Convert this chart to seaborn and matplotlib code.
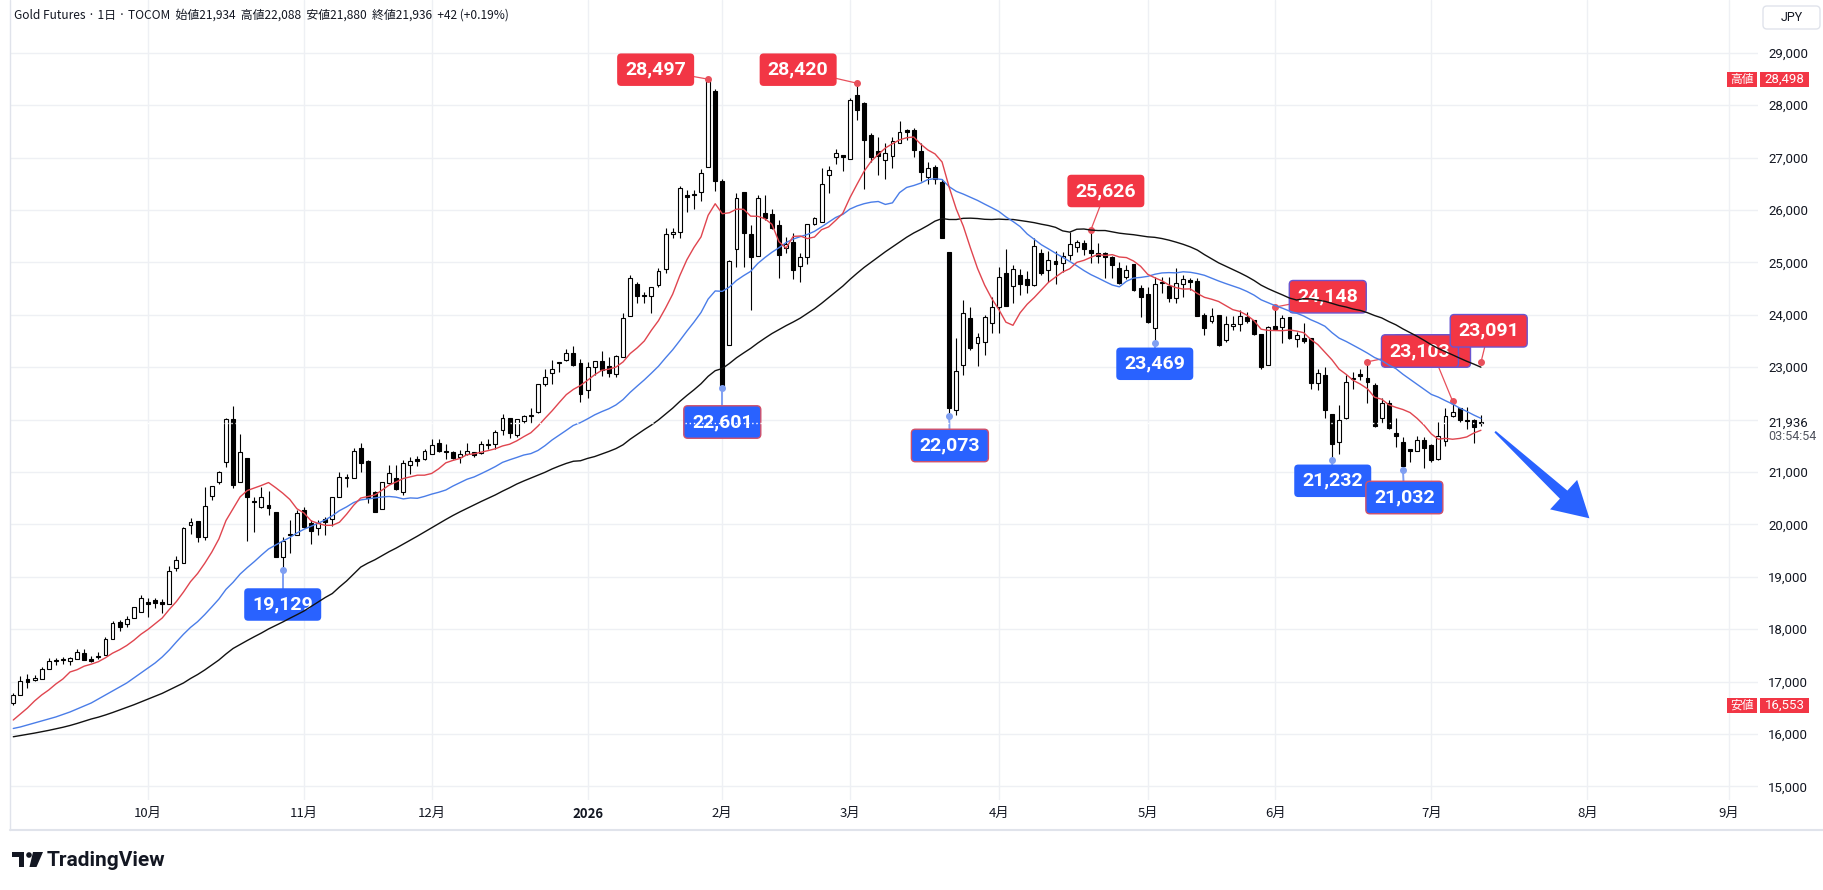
import numpy as np
import pandas as pd
import matplotlib
matplotlib.use("Agg")
import matplotlib.pyplot as plt
import matplotlib.transforms as mtransforms
from matplotlib.patches import FancyBboxPatch, Rectangle, Polygon, Circle
from matplotlib.lines import Line2D
import seaborn as sns

# ---------------- data (daily OHLC, Gold Futures TOCOM, JPY) ----------------
opens = [
    16586, 16739, 17050, 17025, 17050, 17241, 17400, 17410, 17387, 17437,
    17551, 17437, 17460, 17510, 17818, 18137, 18105, 18213, 18336, 18498,
    18548, 18500, 18484, 19161, 19270, 19988, 20059, 19754, 20548, 20805,
    21198, 22005, 20814, 21265, 20440, 20325, 20366, 20232, 19385, 19810,
    19800, 20277, 20030, 19940, 20098, 20098, 20529, 20885, 20882, 21453,
    21216, 20625, 20294, 20783, 20891, 20614, 21140, 21255, 21245, 21341,
    21550, 21408, 21390, 21284, 21345, 21376, 21355, 21520, 21527, 21800,
    22036, 21710, 21974, 22075, 22150, 22675, 22884, 23085, 23138, 23265,
    23080, 22573, 23005, 23120, 23030, 22865, 23200, 23980, 24580, 24365,
    24365, 24570, 24868, 25537, 25586, 26270, 26290, 26350, 26827, 28270,
    26550, 23425, 25250, 26340, 25537, 25130, 25937, 25920, 25715, 25270,
    25395, 24932, 25110, 25727, 25777, 26670, 27010, 27050, 26968, 28195,
    28050, 27430, 27125, 26955, 27030, 27273, 27527, 27527, 27125, 26625,
    26830, 26540, 25193, 22180, 23040, 23935, 23456, 23490, 23840, 24140,
    24795, 24550, 24760, 24685, 24570, 25185, 24850, 25035, 24985, 25141,
    25300, 25376, 25237, 25185, 25185, 25110, 24890, 24730, 24965, 24520,
    24390, 23740, 24630, 24545, 24315, 24590, 24665, 24650, 23997, 23880,
    23997, 23520, 23785, 23825, 23965, 23900, 23635, 23050, 23785, 23775,
    23950, 23535, 23555, 23550, 22705, 22850, 22100, 21575, 22025, 22775,
    22860, 22790, 22660, 22025, 22325, 21738, 21580, 21425, 21410, 21615,
    21520, 21245, 21600, 22065, 22215, 21995, 21995, 21934]

highs = [
    16777, 17107, 17139, 17120, 17273, 17444, 17444, 17475, 17475, 17616,
    17616, 17494, 17559, 17857, 18156, 18175, 18246, 18431, 18659, 18590,
    18602, 18570, 19206, 19397, 19958, 20116, 20060, 20710, 20740, 21027,
    22024, 22257, 21730, 21270, 20516, 20710, 20645, 20232, 19766, 20080,
    20277, 20340, 20080, 20080, 20144, 20525, 21000, 20960, 21453, 21560,
    21220, 20630, 20805, 21133, 21133, 21220, 21290, 21310, 21435, 21624,
    21624, 21535, 21392, 21422, 21560, 21390, 21592, 21624, 21800, 22105,
    22040, 22012, 22080, 22217, 22680, 22960, 23138, 23105, 23350, 23405,
    23155, 23090, 23125, 23310, 23190, 23225, 24030, 24760, 24630, 24430,
    24530, 24890, 25650, 25650, 26464, 26382, 26382, 26777, 28497, 28303,
    26600, 25046, 26330, 26350, 25715, 26290, 26290, 26015, 25810, 25490,
    25555, 25175, 25735, 25860, 26795, 26840, 27165, 27055, 28135, 28420,
    28070, 27465, 27400, 27272, 27387, 27705, 27540, 27570, 27285, 26920,
    26860, 26590, 25195, 23563, 24282, 24155, 23650, 24000, 24345, 24910,
    25250, 24950, 24870, 24840, 25460, 25250, 25225, 25225, 25205, 25585,
    25430, 25430, 25626, 25375, 25190, 25115, 25013, 24950, 24970, 24570,
    24535, 24730, 24730, 24730, 24900, 24760, 24700, 24700, 24040, 24135,
    24000, 23975, 23975, 24090, 24060, 23905, 23640, 23785, 24148, 23995,
    23950, 23680, 23840, 23555, 22960, 23005, 22105, 22280, 22850, 22915,
    22960, 23103, 22705, 22405, 22375, 22025, 21675, 21425, 21690, 21675,
    21525, 21960, 22215, 22355, 22230, 22235, 22010, 22088]

lows = [
    16553, 16735, 16884, 17020, 17044, 17235, 17311, 17342, 17311, 17431,
    17412, 17368, 17425, 17500, 17810, 17971, 18047, 18210, 18330, 18227,
    18407, 18303, 18484, 19110, 19265, 19815, 19660, 19700, 20460, 20769,
    21090, 20690, 20814, 19690, 19848, 20320, 20180, 19370, 19129, 19450,
    19795, 19940, 19630, 19800, 19800, 19970, 20520, 20710, 20880, 21000,
    20405, 20230, 20290, 20780, 20665, 20560, 20955, 21110, 21225, 21340,
    21385, 21245, 21250, 21180, 21325, 21295, 21350, 21435, 21435, 21700,
    21645, 21660, 21940, 21940, 22120, 22647, 22675, 22915, 23120, 23030,
    22345, 22405, 22850, 22840, 22820, 22820, 23195, 23975, 24230, 24220,
    24030, 24525, 24790, 25460, 25460, 25955, 26018, 26172, 26820, 26368,
    22601, 23420, 24918, 24918, 24090, 25125, 25810, 25630, 24710, 25175,
    24680, 24620, 24970, 25720, 25770, 26320, 26875, 26750, 26965, 27718,
    26400, 26920, 26670, 26586, 26810, 27270, 27336, 27005, 26555, 26495,
    26495, 25460, 22073, 22090, 22850, 23330, 23030, 23230, 23650, 23650,
    24165, 24220, 24380, 24420, 24545, 24760, 24630, 24590, 24820, 25045,
    25205, 25141, 24995, 24995, 24695, 24695, 24590, 24680, 24455, 23965,
    23850, 23469, 24410, 24250, 24230, 24335, 24475, 23980, 23615, 23850,
    23410, 23485, 23710, 23690, 23850, 23615, 22960, 23040, 23705, 23470,
    23535, 23390, 23460, 22580, 22560, 22025, 21232, 21345, 22020, 22575,
    22760, 22320, 21850, 21930, 21820, 21470, 21032, 21200, 21400, 21070,
    21200, 21230, 21490, 22055, 21960, 21815, 21545, 21880]

closes = [
    16744, 17017, 16998, 17069, 17235, 17387, 17390, 17425, 17444, 17559,
    17418, 17400, 17470, 17818, 18112, 18047, 18194, 18418, 18590, 18488,
    18498, 18490, 19110, 19319, 19926, 20040, 19754, 20357, 20738, 20996,
    22005, 20752, 21376, 20521, 20420, 20516, 20306, 19385, 19690, 19795,
    20225, 19946, 19880, 20022, 20052, 20521, 20897, 20897, 21408, 21180,
    20510, 20243, 20802, 20974, 20670, 21170, 21217, 21217, 21408, 21506,
    21408, 21376, 21265, 21341, 21408, 21325, 21527, 21527, 21756, 22036,
    21740, 22010, 22075, 22088, 22675, 22818, 22960, 23098, 23265, 23042,
    22485, 23005, 23120, 22945, 22885, 23220, 23935, 24695, 24365, 24350,
    24525, 24842, 25537, 25575, 26414, 26255, 26295, 26712, 28481, 26560,
    22620, 25027, 26225, 25555, 25097, 26225, 25840, 25650, 25140, 25350,
    24855, 25100, 25730, 25855, 26497, 26765, 27085, 27005, 28100, 27910,
    27335, 27018, 27037, 27080, 27320, 27495, 27495, 27145, 26720, 26810,
    26590, 25470, 22215, 22925, 24030, 23360, 23585, 23965, 24155, 24720,
    24170, 24870, 24590, 24570, 25315, 24790, 25045, 24970, 25125, 25345,
    25390, 25250, 25175, 25120, 25110, 24950, 24600, 24855, 24475, 24335,
    23857, 24590, 24600, 24315, 24600, 24685, 24635, 23983, 23740, 23975,
    23420, 23815, 23815, 23975, 23880, 23635, 23010, 23760, 23720, 23935,
    23555, 23615, 23500, 22695, 22896, 22185, 21534, 21985, 22725, 22790,
    22840, 22725, 21885, 22325, 21835, 21690, 21120, 21410, 21615, 21455,
    21220, 21695, 22060, 22150, 21990, 21975, 21865, 21936]

# moving-average values for the first bars (before enough history)
ma10_head = [16267, 16382, 16496, 16630, 16744, 16840, 16954, 17050, 17183]
ma25_head = [16105, 16134, 16172, 16210, 16248, 16286, 16325, 16372, 16420, 16477,
             16534, 16592, 16668, 16744, 16821, 16897, 16973, 17069, 17164, 17259,
             17355, 17469, 17603, 17756]
ma50_head = [15947, 15970, 15993, 16017, 16042, 16069, 16098, 16128, 16162, 16201,
             16243, 16286, 16321, 16363, 16409, 16458, 16508, 16557, 16611, 16666,
             16721, 16775, 16840, 16907, 16973, 17059, 17135, 17221, 17317, 17412,
             17527, 17632, 17708, 17784, 17857, 17927, 18004, 18070, 18137, 18208,
             18276, 18347, 18433, 18519, 18605, 18681, 18805, 18919, 19053]

month_labels = ["10月", "11月", "12月", "2026", "2月", "3月", "4月", "5月", "6月", "7月", "8月", "9月"]
month_bar_index = [19, 41, 59, 81, 100, 118, 139, 160, 178, 200, 222, 242]
price_ticks = list(range(15000, 29001, 1000))

# high callouts (the 4th one is hidden behind the "23,103" box in the chart)
high_label_text = ["28,497", "28,420", "25,626", "", "24,148", "23,103", "23,091"]
high_label_bar = [98, 119, 152, 203, 178, 191, 207]
high_label_value = [28497, 28420, 25626, 22355, 24148, 23103, 23091]
low_label_text = ["19,129", "22,601", "22,073", "23,469", "21,232", "21,032"]
low_label_bar = [38, 100, 132, 161, 186, 196]
low_label_value = [19129, 22601, 22073, 23469, 21232, 21032]

title = "Gold Futures · 1日 · TOCOM  始値21,934  高値22,088  安値21,880  終値21,936  +42 (+0.19%)"

# ---------------- layout ----------------
sns.set_theme(style="white")
plt.rcParams['font.family'] = ['Roboto', 'Noto Sans CJK JP', 'DejaVu Sans']

W, H = 1824, 890
fig = plt.figure(figsize=(W / 100, H / 100), dpi=100)
fig.patch.set_facecolor('white')
AX_L, AX_R, AX_T, AX_B = 10, 1758, 0, 800
ax = fig.add_axes([AX_L / W, 1 - AX_B / H, (AX_R - AX_L) / W, (AX_B - AX_T) / H])
ax.set_facecolor('white')
XMIN, XMAX = -0.464, 246.08
YMIN, YMAX = 14740, 30008
ax.set_xlim(XMIN, XMAX)
ax.set_ylim(YMIN, YMAX)
XPP = (XMAX - XMIN) / (AX_R - AX_L)     # bar index per pixel
YPP = (YMAX - YMIN) / (AX_B - AX_T)     # yen per pixel

for s in ax.spines.values():
    s.set_visible(False)
ax.grid(True, color='#eef0f4', linewidth=1.0, zorder=0)
ax.set_axisbelow(True)

# ---------------- candles ----------------
o = np.array(opens, float); h = np.array(highs, float)
l = np.array(lows, float); c = np.array(closes, float)
idx = np.arange(len(c))
up = c >= o
body_lo = np.minimum(o, c)
body_h = np.maximum(np.abs(c - o), 22)
ax.vlines(idx, l, h, color='black', linewidth=0.8, zorder=2)
ax.bar(idx[up], body_h[up], bottom=body_lo[up], width=0.55, color='white',
       edgecolor='black', linewidth=0.8, zorder=3)
ax.bar(idx[~up], body_h[~up], bottom=body_lo[~up], width=0.55, color='black',
       edgecolor='black', linewidth=0.8, zorder=3)

# ---------------- moving averages ----------------
cs = pd.Series(closes, dtype=float)


def sma(period, head):
    m = cs.rolling(period).mean()
    m.iloc[:len(head)] = head
    return m


ma_df = pd.DataFrame({"bar": idx, "ma10": sma(10, ma10_head),
                      "ma25": sma(25, ma25_head), "ma50": sma(50, ma50_head)})
sns.lineplot(data=ma_df, x="bar", y="ma50", ax=ax, color='#111111', linewidth=1.0, zorder=8)
sns.lineplot(data=ma_df, x="bar", y="ma25", ax=ax, color='#4a7de8', linewidth=1.0, zorder=8)
sns.lineplot(data=ma_df, x="bar", y="ma10", ax=ax, color='#e0454f', linewidth=1.0, zorder=8)
ax.set_xlabel(""); ax.set_ylabel("")

# ---------------- callout labels ----------------
RED, BLUE = '#F23645', '#2962FF'
_z = [5.0]


def callout(text, dot_x, dot_y, box_x, box_y, fill, edge, line_color, line_w):
    ax.plot([dot_x, box_x], [dot_y, box_y], color=line_color, lw=line_w, zorder=4)
    ax.plot([dot_x], [dot_y], 'o', ms=4, color=line_color, zorder=4.1)
    bw, bh = 77 * XPP, 32.5 * YPP
    z = _z[0]
    _z[0] += 0.05
    patch = FancyBboxPatch((box_x - bw / 2, box_y - bh / 2), bw, bh,
                           boxstyle=f"round,pad=0,rounding_size={4 * XPP}",
                           mutation_aspect=YPP / XPP, fc=fill,
                           ec=edge if edge else fill, lw=1.0 if edge else 0, zorder=z)
    ax.add_patch(patch)
    if text:
        ax.text(box_x, box_y, text, color='white', ha='center', va='center',
                fontsize=14, fontweight='bold', family=['Roboto', 'DejaVu Sans'], zorder=z + 0.01)


# layout of boxes (bar index, price, border colour) for each label
high_box = [(90.6, 28678, None), (110.7, 28678, None), (154.1, 26363, None),
            (200.1, 23309, '#6a55d0'), (185.4, 24345, '#6a55d0'),
            (198.4, 23309, '#6a55d0'), (208.1, 23695, '#6a55d0')]
low_box = [(38.0, 18471, None), (100.0, 21954, '#d0506a'), (132.1, 21506, '#d0506a'),
           (161.0, 23065, None), (186.1, 20832, None), (196.2, 20513, '#d0506a')]

for t, bi, v, (bx, by, ec) in zip(high_label_text, high_label_bar, high_label_value, high_box):
    callout(t, bi, v, bx, by, RED, ec, '#e8505b', 0.9)
for t, bi, v, (bx, by, ec) in zip(low_label_text, low_label_bar, low_label_value, low_box):
    callout(t, bi, v, bx, by, BLUE, ec, '#7f9ff2', 1.4)

# white dotted last-price line (visible only over coloured boxes)
ax.axhline(closes[-1], color='white', lw=1.0, ls=(0, (1, 2)), zorder=9)

# ---------------- forecast arrow ----------------
arrow_tail = (209.0, 21769)
arrow_tip = (222.3, 20116)
T = ax.transData
p0 = T.transform(arrow_tail); p1 = T.transform(arrow_tip)
d = p1 - p0; L = np.hypot(*d); u = d / L; nrm = np.array([-u[1], u[0]])
base = p1 - u * 35
pts = [p0 + nrm * 1.0, base + nrm * 5.5, base + nrm * 20, p1,
       base - nrm * 20, base - nrm * 5.5, p0 - nrm * 1.0]
ax.add_patch(Polygon(T.inverted().transform(pts), closed=True, fc=BLUE, ec='none', zorder=10))

# ---------------- axes ticks ----------------
ax.yaxis.tick_right()
ax.set_yticks(price_ticks)
ax.set_yticklabels(["" if p == 22000 else f"{p:,}" for p in price_ticks])
ax.tick_params(axis='y', length=0, pad=7.5, labelsize=9.5, labelcolor='#131722')
ax.set_xticks(month_bar_index)
ax.set_xticklabels(month_labels)
ax.tick_params(axis='x', length=0, pad=5, labelsize=9.5, labelcolor='#131722')
for tl in ax.get_xticklabels():
    tl.set_family(['Noto Sans CJK JP', 'DejaVu Sans'])
    if tl.get_text() == "2026":
        tl.set_fontweight('bold')

bt = mtransforms.blended_transform_factory(ax.transAxes, ax.transData)
AXW = AX_R - AX_L


def ax_x(px):
    return (px - AX_L) / AXW


def side_tag(word, value):
    hh = 7.5 * YPP
    ax.add_patch(Rectangle((ax_x(1727), value - hh), ax_x(1757) - ax_x(1727), 2 * hh,
                           transform=bt, fc=RED, ec='none', clip_on=False, zorder=11))
    ax.add_patch(Rectangle((ax_x(1760), value - hh), ax_x(1809) - ax_x(1760), 2 * hh,
                           transform=bt, fc=RED, ec='none', clip_on=False, zorder=11))
    ax.text(ax_x(1742), value, word, transform=bt, ha='center', va='center', color='white',
            fontsize=8.5, family=['Noto Sans CJK JP'], clip_on=False, zorder=12)
    ax.text(ax_x(1784.5), value, f"{value:,}", transform=bt, ha='center', va='center',
            color='white', fontsize=9.5, clip_on=False, zorder=12)


side_tag("高値", 28498)
side_tag("安値", 16553)
ax.text(ax_x(1768), closes[-1], f"{closes[-1]:,}", transform=bt, ha='left', va='center',
        color='#131722', fontsize=9.5, clip_on=False)
ax.text(ax_x(1768), closes[-1] - 14 * YPP, "03:54:54", transform=bt, ha='left', va='center',
        color='#50535e', fontsize=9, clip_on=False)

# ---------------- chrome ----------------
px_tr = mtransforms.Affine2D().scale(1 / W, -1 / H).translate(0, 1) + fig.transFigure
fig.add_artist(Line2D([10, 10], [0, 830], transform=px_tr, color='#e0e3eb', lw=1))
fig.add_artist(Line2D([10, 1824], [830, 830], transform=px_tr, color='#e0e3eb', lw=1.5))
fig.add_artist(FancyBboxPatch((1763, 6), 57, 23, boxstyle="round,pad=0,rounding_size=4",
                              transform=px_tr, fc='white', ec='#e0e3eb', lw=1))
fig.text(1791.5 / W, 1 - 17.5 / H, "JPY", ha='center', va='center', fontsize=9, color='#131722')
fig.text(14 / W, 1 - 15 / H, title, ha='left', va='center', fontsize=8.6, color='#131722',
         family=['Noto Sans CJK JP', 'DejaVu Sans'])

# TradingView logo
fig.add_artist(Rectangle((12, 852), 12, 5, transform=px_tr, fc='#131722', ec='none'))
fig.add_artist(Rectangle((19, 852), 5, 15, transform=px_tr, fc='#131722', ec='none'))
fig.add_artist(Circle((29, 855), 2.8, transform=px_tr, fc='#131722', ec='none'))
fig.add_artist(Polygon([(33, 852), (43, 852), (36.5, 867), (29.5, 867)], closed=True,
                       transform=px_tr, fc='#131722', ec='none'))
fig.text(47 / W, 1 - 860 / H, "TradingView", ha='left', va='center', fontsize=15,
         fontweight='bold', color='#131722', family=['Roboto', 'DejaVu Sans'])

fig.savefig("out.png", dpi=100, facecolor='white')
